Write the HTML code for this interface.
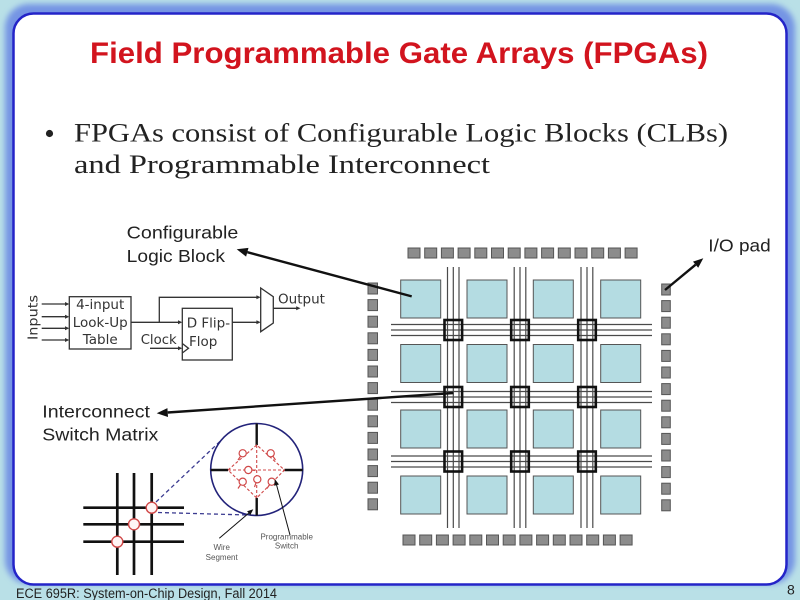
<!DOCTYPE html>
<html><head><meta charset="utf-8"><style>
html,body{margin:0;padding:0;background:#b9e0e7;}
svg{display:block;}
</style></head><body>
<svg width="800" height="600" viewBox="0 0 800 600" xmlns="http://www.w3.org/2000/svg">
<defs>
<filter id="bl" x="-5%" y="-5%" width="110%" height="110%"><feGaussianBlur stdDeviation="3"/></filter>
</defs>
<rect x="0" y="0" width="800" height="600" fill="#b9e0e7"/>
<rect x="5" y="4" width="790" height="580" rx="24" fill="#7494e4" filter="url(#bl)"/>
<rect x="13.5" y="13.5" width="773" height="571" rx="20" fill="#ffffff" stroke="#2424c8" stroke-width="2.5"/>

<!-- Title -->
<text x="90" y="63" font-family="Liberation Sans, sans-serif" font-weight="bold" font-size="30" fill="#d2141e" textLength="618" lengthAdjust="spacingAndGlyphs">Field Programmable Gate Arrays (FPGAs)</text>

<!-- Bullet -->
<circle cx="49.5" cy="133.5" r="3.6" fill="#222"/>
<text x="74" y="141.5" font-family="Liberation Serif, serif" font-size="26" fill="#222" textLength="654" lengthAdjust="spacingAndGlyphs">FPGAs consist of Configurable Logic Blocks (CLBs)</text>
<text x="74" y="173" font-family="Liberation Serif, serif" font-size="26" fill="#222" textLength="416" lengthAdjust="spacingAndGlyphs">and Programmable Interconnect</text>

<!-- Labels -->
<g font-family="Liberation Sans, sans-serif" font-size="17.5" fill="#222">
<text x="126.7" y="238.3" textLength="111.6" lengthAdjust="spacingAndGlyphs">Configurable</text>
<text x="126.7" y="262" textLength="98.3" lengthAdjust="spacingAndGlyphs">Logic Block</text>
<text x="708.3" y="251.5" textLength="62.4" lengthAdjust="spacingAndGlyphs">I/O pad</text>
<text x="42.3" y="417.3" textLength="107.7" lengthAdjust="spacingAndGlyphs">Interconnect</text>
<text x="42.3" y="440.5" textLength="116" lengthAdjust="spacingAndGlyphs">Switch Matrix</text>
</g>

<!-- FPGA grid: CLBs -->
<g fill="#b4dce2" stroke="#555" stroke-width="1">
<rect x="400.7" y="280" width="40" height="38"/><rect x="467" y="280" width="40" height="38"/><rect x="533.3" y="280" width="40" height="38"/><rect x="600.7" y="280" width="40" height="38"/>
<rect x="400.7" y="344.5" width="40" height="38"/><rect x="467" y="344.5" width="40" height="38"/><rect x="533.3" y="344.5" width="40" height="38"/><rect x="600.7" y="344.5" width="40" height="38"/>
<rect x="400.7" y="410" width="40" height="38"/><rect x="467" y="410" width="40" height="38"/><rect x="533.3" y="410" width="40" height="38"/><rect x="600.7" y="410" width="40" height="38"/>
<rect x="400.7" y="476" width="40" height="38"/><rect x="467" y="476" width="40" height="38"/><rect x="533.3" y="476" width="40" height="38"/><rect x="600.7" y="476" width="40" height="38"/>
</g>
<!-- wires -->
<g stroke="#4a4a4a" stroke-width="1.2">
<line x1="447.5" y1="267" x2="447.5" y2="528"/><line x1="453.3" y1="267" x2="453.3" y2="528"/><line x1="459" y1="267" x2="459" y2="528"/>
<line x1="514.2" y1="267" x2="514.2" y2="528"/><line x1="520" y1="267" x2="520" y2="528"/><line x1="525.8" y1="267" x2="525.8" y2="528"/>
<line x1="581" y1="267" x2="581" y2="528"/><line x1="587" y1="267" x2="587" y2="528"/><line x1="592.8" y1="267" x2="592.8" y2="528"/>
<line x1="391" y1="324.5" x2="652" y2="324.5"/><line x1="391" y1="330" x2="652" y2="330"/><line x1="391" y1="335.5" x2="652" y2="335.5"/>
<line x1="391" y1="391.5" x2="652" y2="391.5"/><line x1="391" y1="397" x2="652" y2="397"/><line x1="391" y1="402.5" x2="652" y2="402.5"/>
<line x1="391" y1="456" x2="652" y2="456"/><line x1="391" y1="461.5" x2="652" y2="461.5"/><line x1="391" y1="467" x2="652" y2="467"/>
</g>
<!-- switch boxes -->
<g fill="none" stroke="#111" stroke-width="2.6">
<rect x="444.5" y="320" width="17.6" height="20"/><rect x="511.2" y="320" width="17.6" height="20"/><rect x="578.2" y="320" width="17.6" height="20"/>
<rect x="444.5" y="387" width="17.6" height="20"/><rect x="511.2" y="387" width="17.6" height="20"/><rect x="578.2" y="387" width="17.6" height="20"/>
<rect x="444.5" y="451.5" width="17.6" height="20"/><rect x="511.2" y="451.5" width="17.6" height="20"/><rect x="578.2" y="451.5" width="17.6" height="20"/>
</g>
<!-- pads -->
<g fill="#8c8c8c" stroke="#555" stroke-width="1">
<rect x="408" y="248" width="12" height="10"/><rect x="424.7" y="248" width="12" height="10"/><rect x="441.4" y="248" width="12" height="10"/><rect x="458.1" y="248" width="12" height="10"/><rect x="474.8" y="248" width="12" height="10"/><rect x="491.5" y="248" width="12" height="10"/><rect x="508.2" y="248" width="12" height="10"/><rect x="524.9" y="248" width="12" height="10"/><rect x="541.6" y="248" width="12" height="10"/><rect x="558.3" y="248" width="12" height="10"/><rect x="575" y="248" width="12" height="10"/><rect x="591.7" y="248" width="12" height="10"/><rect x="608.4" y="248" width="12" height="10"/><rect x="625.1" y="248" width="12" height="10"/>
<rect x="403" y="535" width="12" height="10"/><rect x="419.7" y="535" width="12" height="10"/><rect x="436.4" y="535" width="12" height="10"/><rect x="453.1" y="535" width="12" height="10"/><rect x="469.8" y="535" width="12" height="10"/><rect x="486.5" y="535" width="12" height="10"/><rect x="503.2" y="535" width="12" height="10"/><rect x="519.9" y="535" width="12" height="10"/><rect x="536.6" y="535" width="12" height="10"/><rect x="553.3" y="535" width="12" height="10"/><rect x="570" y="535" width="12" height="10"/><rect x="586.7" y="535" width="12" height="10"/><rect x="603.4" y="535" width="12" height="10"/><rect x="620.1" y="535" width="12" height="10"/>
<rect x="368" y="283" width="9.5" height="11"/><rect x="368" y="299.6" width="9.5" height="11"/><rect x="368" y="316.2" width="9.5" height="11"/><rect x="368" y="332.8" width="9.5" height="11"/><rect x="368" y="349.4" width="9.5" height="11"/><rect x="368" y="366" width="9.5" height="11"/><rect x="368" y="382.6" width="9.5" height="11"/><rect x="368" y="399.2" width="9.5" height="11"/><rect x="368" y="415.8" width="9.5" height="11"/><rect x="368" y="432.4" width="9.5" height="11"/><rect x="368" y="449" width="9.5" height="11"/><rect x="368" y="465.6" width="9.5" height="11"/><rect x="368" y="482.2" width="9.5" height="11"/><rect x="368" y="498.8" width="9.5" height="11"/>
<rect x="661.7" y="284" width="8.6" height="11"/><rect x="661.7" y="300.6" width="8.6" height="11"/><rect x="661.7" y="317.2" width="8.6" height="11"/><rect x="661.7" y="333.8" width="8.6" height="11"/><rect x="661.7" y="350.4" width="8.6" height="11"/><rect x="661.7" y="367" width="8.6" height="11"/><rect x="661.7" y="383.6" width="8.6" height="11"/><rect x="661.7" y="400.2" width="8.6" height="11"/><rect x="661.7" y="416.8" width="8.6" height="11"/><rect x="661.7" y="433.4" width="8.6" height="11"/><rect x="661.7" y="450" width="8.6" height="11"/><rect x="661.7" y="466.6" width="8.6" height="11"/><rect x="661.7" y="483.2" width="8.6" height="11"/><rect x="661.7" y="499.8" width="8.6" height="11"/>
</g>

<!-- Main arrows -->
<g stroke="#111" stroke-width="2.4" fill="none">
<line x1="247.3" y1="252.2" x2="411.7" y2="296.4"/>
<line x1="167.7" y1="412.5" x2="453.3" y2="393"/>
<line x1="695.6" y1="264.7" x2="665" y2="290"/>
</g>
<g fill="#111">
<polygon points="236.7,249.3 246.1,256.6 248.5,247.9"/>
<polygon points="156.7,413.3 168.0,417.0 167.4,408.1"/>
<polygon points="703.3,258.3 698.2,267.8 693.0,261.6"/>
</g>

<!-- Logic block diagram -->
<g stroke="#333" stroke-width="1.3" fill="none">
<rect x="69.3" y="296.7" width="61.7" height="52.3"/>
<rect x="182.3" y="308.3" width="50" height="51.7"/>
<line x1="41.7" y1="304" x2="66" y2="304"/><line x1="41.7" y1="316.7" x2="66" y2="316.7"/><line x1="41.7" y1="328.3" x2="66" y2="328.3"/><line x1="41.7" y1="340" x2="66" y2="340"/>
<line x1="131" y1="322.3" x2="179" y2="322.3"/>
<polyline points="159.3,322.3 159.3,297.3 257.5,297.3"/>
<line x1="232.3" y1="322.3" x2="257.5" y2="322.3"/>
<line x1="150" y1="348.3" x2="179" y2="348.3"/>
<polyline points="182.3,343.5 188.5,348.3 182.3,353"/>
<polygon points="260.7,288 273.3,296.7 273.3,323 260.7,331.7"/>
<line x1="273.3" y1="308.3" x2="297" y2="308.3"/>
</g>
<g fill="#333">
<polygon points="69.3,304 65,302 65,306"/><polygon points="69.3,316.7 65,314.7 65,318.7"/><polygon points="69.3,328.3 65,326.3 65,330.3"/><polygon points="69.3,340 65,338 65,342"/>
<polygon points="182.3,322.3 178,320.3 178,324.3"/>
<polygon points="260.7,297.3 256.4,295.3 256.4,299.3"/>
<polygon points="260.7,322.3 256.4,320.3 256.4,324.3"/>
<polygon points="182.3,348.3 178,346.3 178,350.3"/>
<polygon points="300.5,308.3 296.2,306.3 296.2,310.3"/>
</g>
<g font-family="DejaVu Sans, sans-serif" font-size="13.5" fill="#333">
<text x="100.2" y="309" text-anchor="middle">4-input</text>
<text x="100.2" y="327" text-anchor="middle">Look-Up</text>
<text x="100.2" y="344" text-anchor="middle">Table</text>
<text x="186.7" y="327.5">D Flip-</text>
<text x="189" y="346">Flop</text>
<text x="140.7" y="344" textLength="36" lengthAdjust="spacingAndGlyphs">Clock</text>
<text x="278" y="303.3" textLength="47" lengthAdjust="spacingAndGlyphs">Output</text>
<text transform="translate(37.5,340) rotate(-90)" textLength="45" lengthAdjust="spacingAndGlyphs">Inputs</text>
</g>

<!-- Switch matrix detail -->
<g stroke="#111" stroke-width="2.7">
<line x1="117.3" y1="473" x2="117.3" y2="575"/><line x1="134" y1="473" x2="134" y2="575"/><line x1="151.7" y1="473" x2="151.7" y2="575"/>
<line x1="83.3" y1="507.7" x2="184" y2="507.7"/><line x1="83.3" y1="524.3" x2="184" y2="524.3"/><line x1="83.3" y1="541.7" x2="184" y2="541.7"/>
</g>
<g stroke="#3a3a90" stroke-width="1.3" stroke-dasharray="4 3" fill="none">
<line x1="156" y1="502" x2="223.3" y2="438.3"/>
<line x1="158" y1="512.5" x2="248.3" y2="515"/>
</g>
<g fill="#fff4f4" stroke="#d04848" stroke-width="1.4">
<circle cx="151.7" cy="507.7" r="5.5"/><circle cx="134" cy="524.3" r="5.5"/><circle cx="117.3" cy="541.7" r="5.5"/>
</g>
<circle cx="256.7" cy="469.5" r="46" fill="#fff" stroke="#23237a" stroke-width="1.6"/>
<g stroke="#111" stroke-width="2.4">
<line x1="256.7" y1="423.5" x2="256.7" y2="445"/><line x1="256.7" y1="498" x2="256.7" y2="515.5"/>
<line x1="210.7" y1="470" x2="228" y2="470"/><line x1="284.5" y1="470" x2="302.7" y2="470"/>
</g>
<g stroke="#d04848" stroke-width="1.1" stroke-dasharray="3 2" fill="none">
<line x1="256.7" y1="445" x2="256.7" y2="498"/>
<line x1="228" y1="470" x2="284.5" y2="470"/>
<polygon points="256.7,445 228,470 256.7,498 284.5,470"/>
</g>
<g stroke="#d04848" stroke-width="1.2" fill="#fff">
<circle cx="242.7" cy="453.3" r="3.6"/><line x1="240.5" y1="456.3" x2="238" y2="460"/>
<circle cx="270.7" cy="453.3" r="3.6"/><line x1="273" y1="456.3" x2="275.5" y2="460"/>
<circle cx="248.3" cy="470" r="3.6"/><line x1="251.9" y1="470" x2="255" y2="470.5"/>
<circle cx="242.7" cy="481.7" r="3.6"/><line x1="240.5" y1="484.7" x2="238" y2="488.5"/>
<circle cx="257.3" cy="479.3" r="3.6"/><line x1="256" y1="482.8" x2="254.5" y2="487"/>
<circle cx="271.7" cy="481.7" r="3.6"/><line x1="269.5" y1="484.7" x2="267" y2="488.5"/>
</g>
<g stroke="#111" stroke-width="1" fill="none">
<line x1="219.3" y1="538.3" x2="249.5" y2="512.5"/>
<line x1="290" y1="535" x2="276.3" y2="484"/>
</g>
<g fill="#111">
<polygon points="253.3,509.3 250.3,515.1 247.1,511.3"/>
<polygon points="275,479.3 274.15,485.75 278.97,484.45"/>
</g>
<g font-family="Liberation Sans, sans-serif" font-size="8" fill="#555" text-anchor="middle">
<text x="221.7" y="550">Wire</text>
<text x="221.7" y="560">Segment</text>
<text x="286.7" y="539.3">Programmable</text>
<text x="286.7" y="548.3">Switch</text>
</g>

<!-- Footer -->
<text x="16" y="598" font-family="Liberation Sans, sans-serif" font-size="13.5" fill="#222" textLength="261" lengthAdjust="spacingAndGlyphs">ECE 695R: System-on-Chip Design, Fall 2014</text>
<text x="787" y="594.5" font-family="Liberation Sans, sans-serif" font-size="14" fill="#222">8</text>
</svg>
</body></html>
